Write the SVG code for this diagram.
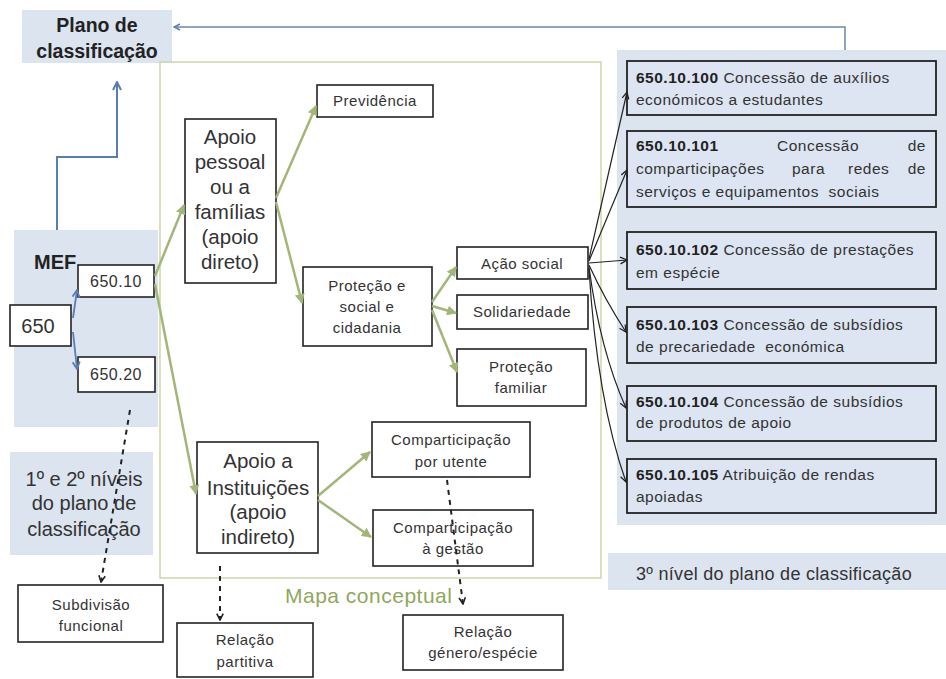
<svg xmlns="http://www.w3.org/2000/svg" width="946" height="679" viewBox="0 0 946 679">
<style>
.t{font-family:"Liberation Sans",Arial,sans-serif;fill:#333}
.s{font-size:15px;letter-spacing:0.5px}
.big{font-size:20.5px}
.r{font-size:15.5px;letter-spacing:0.5px}
.b{font-weight:bold;fill:#222}
.c{text-anchor:middle}
.box{fill:#fff;stroke:#222;stroke-width:1.6}
.bg{fill:#dce4f0}
.rbox{fill:#dce5f1;stroke:#222;stroke-width:1.8}
.gl{fill:none;stroke:#a2b777;stroke-width:2.5}
.bl{fill:none;stroke:#222;stroke-width:1.2}
.dl{fill:none;stroke:#222;stroke-width:2;stroke-dasharray:5 5}
</style>
<defs>
<marker id="ag" viewBox="0 0 10 10" refX="9" refY="5" markerWidth="4" markerHeight="4" orient="auto" markerUnits="strokeWidth"><path d="M0,0 L10,5 L0,10 Z" fill="#a2b777"/></marker>
<marker id="ab" viewBox="0 0 10 10" refX="9" refY="5" markerWidth="7" markerHeight="7" orient="auto" markerUnits="strokeWidth"><path d="M1,1 L9,5 L1,9" fill="none" stroke="#222" stroke-width="1.5"/></marker>
<marker id="au" viewBox="0 0 10 10" refX="9" refY="5" markerWidth="5" markerHeight="5" orient="auto" markerUnits="strokeWidth"><path d="M1,1 L9,5 L1,9" fill="none" stroke="#5a7db5" stroke-width="2"/></marker>
<marker id="ad" viewBox="0 0 10 10" refX="9" refY="5" markerWidth="4" markerHeight="4" orient="auto" markerUnits="strokeWidth"><path d="M1,1 L9,5 L1,9" fill="none" stroke="#222" stroke-width="2"/></marker>
</defs>
<rect width="946" height="679" fill="#fff"/>

<g id="plano">
<rect class="bg" x="22" y="10" width="150" height="53"/>
<text class="t b c" x="97" y="32" font-size="19.5">Plano de</text>
<text class="t b c" x="97" y="58" font-size="19.5">classificação</text>
</g>

<g id="mapa">
<rect x="160" y="62" width="441" height="516" fill="none" stroke="#cbd6a6" stroke-width="1.5"/>
<text class="t" x="285" y="603" font-size="21" letter-spacing="0.5" style="fill:#8fa85a">Mapa conceptual</text>
</g>

<g id="mef">
<rect class="bg" x="14" y="230" width="144" height="197"/>
<text class="t b" x="34" y="269" font-size="20">MEF</text>
</g>
<g id="n650"><rect class="box" x="10" y="305" width="61" height="41"/><text class="t" x="38" y="333" font-size="20" text-anchor="middle">650</text></g>
<g id="n65010"><rect class="box" x="78" y="265" width="76" height="32"/><text class="t c" x="116" y="287" font-size="16" letter-spacing="0.5">650.10</text></g>
<g id="n65020"><rect class="box" x="78" y="357" width="77" height="35"/><text class="t c" x="116" y="380" font-size="16" letter-spacing="0.5">650.20</text></g>

<g id="niveis">
<rect class="bg" x="10" y="452" width="143" height="103"/>
<text class="t c" x="84" y="486" font-size="20">1º e 2º níveis</text>
<text class="t c" x="84" y="510" font-size="20">do plano de</text>
<text class="t c" x="84" y="536" font-size="20">classificação</text>
</g>

<g id="subdivisao"><rect class="box" x="18" y="585" width="145" height="57"/>
<text class="t s c" x="91" y="610">Subdivisão</text><text class="t s c" x="91" y="631">funcional</text></g>

<g id="apoio-pessoal"><rect class="box" x="185" y="119" width="91" height="164"/>
<text class="t big c" x="230" y="144">Apoio</text>
<text class="t big c" x="230" y="169">pessoal</text>
<text class="t big c" x="230" y="194">ou a</text>
<text class="t big c" x="230" y="219">famílias</text>
<text class="t big c" x="230" y="244">(apoio</text>
<text class="t big c" x="230" y="269">direto)</text></g>

<g id="previdencia"><rect class="box" x="317" y="85" width="116" height="32"/><text class="t s c" x="375" y="106">Previdência</text></g>

<g id="protecao-social"><rect class="box" x="303" y="267" width="129" height="79"/>
<text class="t s c" x="367" y="291">Proteção e</text>
<text class="t s c" x="367" y="312">social e</text>
<text class="t s c" x="367" y="333">cidadania</text></g>

<g id="acao-social"><rect class="box" x="457" y="247" width="131" height="32"/><text class="t s c" x="522" y="269">Ação social</text></g>
<g id="solidariedade"><rect class="box" x="457" y="295" width="131" height="34"/><text class="t s c" x="522" y="317">Solidariedade</text></g>
<g id="protecao-familiar"><rect class="box" x="457" y="349" width="129" height="57"/>
<text class="t s c" x="521" y="372">Proteção</text><text class="t s c" x="521" y="393">familiar</text></g>

<g id="apoio-instituicoes"><rect class="box" x="197" y="442" width="121" height="111"/>
<text class="t big c" x="258" y="468">Apoio a</text>
<text class="t big c" x="258" y="495">Instituições</text>
<text class="t big c" x="258" y="519">(apoio</text>
<text class="t big c" x="258" y="544">indireto)</text></g>

<g id="comp-utente"><rect class="box" x="372" y="422" width="158" height="55"/>
<text class="t s c" x="451" y="445">Comparticipação</text><text class="t s c" x="451" y="467">por utente</text></g>
<g id="comp-gestao"><rect class="box" x="373" y="510" width="160" height="56"/>
<text class="t s c" x="453" y="533">Comparticipação</text><text class="t s c" x="453" y="554">à gestão</text></g>

<g id="relacao-partitiva"><rect class="box" x="177" y="623" width="136" height="54"/>
<text class="t s c" x="245" y="645">Relação</text><text class="t s c" x="245" y="667">partitiva</text></g>
<g id="relacao-genero"><rect class="box" x="403" y="615" width="160" height="55"/>
<text class="t s c" x="483" y="637">Relação</text><text class="t s c" x="483" y="658">género/espécie</text></g>

<g id="terceiro-nivel">
<rect class="bg" x="617" y="50" width="329" height="475"/>
</g>
<g id="r100"><rect class="rbox" x="627" y="61" width="309" height="54"/>
<text class="t r" x="636" y="83"><tspan class="b">650.10.100</tspan> Concessão de auxílios</text>
<text class="t r" x="636" y="105">económicos a estudantes</text></g>
<g id="r101"><rect class="rbox" x="627" y="131" width="309" height="76"/>
<text class="t r b" x="636" y="151">650.10.101</text><text class="t r" x="777" y="151">Concessão</text><text class="t r" x="926" y="151" text-anchor="end">de</text>
<text class="t r" x="636" y="174">comparticipações</text><text class="t r" x="792" y="174">para</text><text class="t r" x="848" y="174">redes</text><text class="t r" x="926" y="174" text-anchor="end">de</text>
<text class="t r" x="636" y="197" xml:space="preserve">serviços e equipamentos  sociais</text></g>
<g id="r102"><rect class="rbox" x="627" y="232" width="309" height="57"/>
<text class="t r" x="636" y="255"><tspan class="b">650.10.102</tspan> Concessão de prestações</text>
<text class="t r" x="636" y="278">em espécie</text></g>
<g id="r103"><rect class="rbox" x="627" y="307" width="309" height="56"/>
<text class="t r" x="636" y="330"><tspan class="b">650.10.103</tspan> Concessão de subsídios</text>
<text class="t r" x="636" y="352" xml:space="preserve">de precariedade  económica</text></g>
<g id="r104"><rect class="rbox" x="627" y="386" width="309" height="55"/>
<text class="t r" x="636" y="407"><tspan class="b">650.10.104</tspan> Concessão de subsídios</text>
<text class="t r" x="636" y="428">de produtos de apoio</text></g>
<g id="r105"><rect class="rbox" x="627" y="459" width="309" height="54"/>
<text class="t r" x="636" y="480"><tspan class="b">650.10.105</tspan> Atribuição de rendas</text>
<text class="t r" x="636" y="502">apoiadas</text></g>

<g id="terceiro-label">
<rect class="bg" x="608" y="553" width="338" height="37"/>
<text class="t" x="636" y="580" font-size="18" letter-spacing="0.3">3º nível do plano de classificação</text>
</g>

<g id="connectors">
<path d="M845,50 V27 H174" fill="none" stroke="#6d87a9" stroke-width="1.5" marker-end="url(#au)"/>
<path d="M57,230 V157 H117 V82" fill="none" stroke="#5a7db5" stroke-width="2" marker-end="url(#au)"/>
<path d="M73,318 L77,290" fill="none" stroke="#5a7db5" stroke-width="1.8" marker-end="url(#au)"/>
<path d="M73,332 L77,369" fill="none" stroke="#5a7db5" stroke-width="1.8" marker-end="url(#au)"/>

<path class="gl" d="M155,276 L184,205" marker-end="url(#ag)"/>
<path class="gl" d="M155,284 L196,494" marker-end="url(#ag)"/>
<path class="gl" d="M276,198 L316,106" marker-end="url(#ag)"/>
<path class="gl" d="M276,202 L302,303" marker-end="url(#ag)"/>
<path class="gl" d="M432,302 L456,267" marker-end="url(#ag)"/>
<path class="gl" d="M432,306 L456,313" marker-end="url(#ag)"/>
<path class="gl" d="M432,310 L457,372" marker-end="url(#ag)"/>
<path class="gl" d="M318,496 L370,452" marker-end="url(#ag)"/>
<path class="gl" d="M318,500 L371,537" marker-end="url(#ag)"/>

<path class="bl" d="M589,259 L627,92" marker-end="url(#ab)"/>
<path class="bl" d="M589,261 L627,170" marker-end="url(#ab)"/>
<path class="bl" d="M589,263 L627,260" marker-end="url(#ab)"/>
<path class="bl" d="M589,265 Q605,300 626,332" marker-end="url(#ab)"/>
<path class="bl" d="M589,267 Q600,350 626,408" marker-end="url(#ab)"/>
<path class="bl" d="M589,269 Q597,400 626,482" marker-end="url(#ab)"/>

<path class="dl" d="M130,410 L101,582" marker-end="url(#ad)"/>
<path class="dl" d="M220,566 L220,620" marker-end="url(#ad)"/>
<path class="dl" d="M447,480 L463,604" marker-end="url(#ad)"/>
</g>
</svg>
